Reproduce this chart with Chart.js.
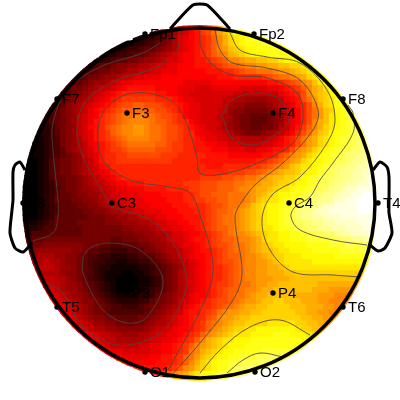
<!DOCTYPE html>
<html>
<head>
<meta charset="utf-8">
<title>EEG topography</title>
<script src="https://cdn.jsdelivr.net/npm/chart.js@4"></script>
<style>
  html, body { margin: 0; padding: 0; background: #fff; }
  canvas { display: block; }
</style>
</head>
<body>
<canvas id="topoChart" width="400" height="400"></canvas>
<script>
// electrodes
var channelNames = ["Fp1", "Fp2", "F7", "F3", "F4", "F8", "T3", "C3", "C4", "T4", "T5", "P3", "P4", "T6", "O1", "O2"];
var channelX = [-55, 54, -143, -73, 73, 143, -177, -88, 89, 178, -143, -73, 73, 143, -55, 55];
var channelY = [169, 169, 104, 90, 90, 104, 0, 0, 0, 0, -104, -90, -90, -104, -169, -169];

// amplitude per cell, base 36 (0 = black ... z = white), each row centred on the head
var amplitudeRows = [
  "9abdefhjln",
  "34568abdeghjlnprst",
  "22334569bcdefgikmopqrrss",
  "1112234567 9bcdefgikm opqrrrssss",
  "1122334556 789bcdefgi klnopqqrrr rsss",
  "1223345567 89abcddefg ijkmnopqqq rrrrss",
  "2233455667 889abbcdde efghikklmm nnoopqqrrs",
  "3345567788 99abbccddd eeefghiijk kllmmnnoop qr",
  "3445667789 9aabbcccdd dddeeeffgh iijjjkllmn opqr",
  "445667889a abbcccdddd ddddddeeef ffffghijjk lmopqr",
  "45567889ab ccdddddddd dcccccdddd ddddddeefg hiklnpqr",
  "4566789aab cdeeeeeddd dcccbbbccc ccbbbbbccd efgikmnpqr",
  "3556789abc deffffffee ddccbbbbbb bbaaaaaaaa cdefhkmnoqrs",
  "456789abcd efggggggff fedccbbbbb aa99888899 acdehjlnoprs",
  "345789abcd efghhiihhh gffedccbbb ba98877778 9abcefhkmoprss",
  "3456789acd efghiijjii hhgfedccbb baa8776666 789acdfhjlnoqrst",
  "345678abcd fghijjkkjj ihhgfdccbb ba98766555 678abdfhjlnpqrst",
  "2345678abc efghijkkkk jiihgffdcb bba9876655 5678acdfhkmnpqrstt",
  "2235678abd efhijkkllk jjihhgfedc bba9876655 6679acegikmopqrstu",
  "12235678ab cefgijkkll kjjihhgffd ccbba98766 6789abdfhj lnoqrrstuu",
  "112346789b cefghijkkk kjjihhgffe dccbbaa999 99abcefhjl mopqrsstuv",
  "1112346789 acdefghijj jjjiihggff eeddccbbaa aabbcdefhj lmopqrsstuvv",
  "1112345789 abdefgghii iiihhhggff eeedddcccb bccdeefhkl mopqrsstuuvw",
  "1112345678 abceffgghh hhhhgggfff ffeeeedddd ddeefhiklm opqrsstuuvvw",
  "0012456678 9aceffgggg ggggggffff feeeeeeeee effghiklmo pqqrsttuvvww",
  "0001245667 89abdeffff ffffffffff fffeeeffff fgghijklno ppqrstuuvvwwxx",
  "0001245667 89abcdefff ffffffffff fffffffggg hhijklmnno pqqsttuvvwwxxy",
  "0001245566 789abcdeff ffffffffff ffgggghhii jjklmnnoop qrsttuuvvwwxyy",
  "0001235566 789aabcdde eefffffffg gghhhiiijj kklmmnoopq qrsttuvvwwxxyy",
  "0001234566 7889aabccd ddeeeeffff gghhhiiijk klmmnoppqr rsttuvvwxxyyyy",
  "0001234556 77889abbcc cddddeeeef fghhiiijjj klmnopqqrr stuuvvwxxyyzzz",
  "0001235556 67789aabbc ccddddeeef fgghhiijjj klnoppqrrs ttuvvwxxyyzzzz",
  "0001234555 667789aabb cccddddeee fffghhijjk lnopqqrrst uvvwxxyyyyzzzz",
  "0001234555 56677899aa bbcccdddee effghiijkl mnopqqrstu vvwxxyyyyyzzzz",
  "0001235555 5566677889 9abbccddde eefghijjkl mnopqqrstu vvwwxxxyyyyyyy",
  "1112345555 6666677788 899abbccdd eefghijjkl mnopqqrstt uuvvwwxxxxyyyy",
  "2223445555 5666666677 8889abbccd defghiijkl mnoppqrrst tuuvvwwwxxxyyy",
  "3344455555 5666666666 778899abbc ddefghijkk lmnoppqqrr ssttuuvwwxxxyy",
  "4555666666 6666665566 677889abbc deefghiijk klmoppqqrr rssssttuuvvwwx",
  "666777777 7666554455 5667889abc cdefghhijj klmnoppqqq qrrrrsssttttu",
  "778888887 7655443334 45667899ab cdeefghijj klmnnoppqq qqrrrrrsssstt",
  "889998877 6544332223 34456789ab cddefghiij kklmnooppp qqqqqqrrrrrrs",
  "999a99877 6543322112 233456789a bcdefghhij kkllmnoppp ppqqqqqqqqqqq",
  "aaaa9887 6543221111 122345678a bcdeffghij kkllmmnopp pppppppppppp",
  "99999877 6543211100 112345679a bcdeffghij kkllmmmnno oooooooooooo",
  "aaa9987 6543211000 011235679a bcdeffghij kklllmmmnn nnnnnnnnnnn",
  "aaaa988 7654321000 011235679a bcdefgghij jkllmmnnnn nnnmmmmmmmm",
  "bba988 7654321000 112345679a bcdefghiij kklmmnnnnn nnmmmlllll",
  "bbba98 8765432111 122356789a cddefghijj klmmnnnnnm mmmlllkkkj",
  "cbba9 8776543222 23356678ab cdefghhijk llmnnoonnn mmmllkkkj",
  "ccba 9876654433 34566789ac deffghijkl mmnnoooonn nmmmllkk",
  "dcba 9876654444 4456789abd eefghjkllm mnnoooooon nmmllkkj",
  "dcb a987766555 566789abcd effhikllmn nooooooooo nnmmllk",
  "dc ba98877665 667899abcd efgijklmnn oooopppppo onnmml",
  "d cba9988777 7789aabcdd efgiklmnoo ppqqqqqqqp oonnm",
  "edcbaa9988 899abbccde fgiklmnopp pqqqqrrrqq qpon",
  "edcbaa9999 9abbccdefg ikmnoppqqq rrrrrrrrrqqq",
  "dccbaaaaab bccddefgik lmnopqqqrr rrrrrrrrrr",
  "dcccbbbbbc cddefgjkmn opqqrrrrrs ssssrr",
  "dddcccccdd eefgijlnop qqrrsssttt ttss",
  "eedddddeee fgikmopqrr ssttttuutt",
  "feeeeefgik lnopqrrstt uuuu",
  "efgiklmopq rrsttuuu",
  "mnoppqrstt"
];

// contour lines
var contourOuterX = [-40, -57, -100, -133, -147, -147, -142, -142, -147, -167];
var contourOuterY = [160, 150, 136, 113, 80, 53, 3, -14, -30, -38];
var contourDarkX = [-20, -20, -23, -43, -83, -113, -123, -117, -100, -93, -87, -50, -27, -13, -15, -33, -53, -83, -117, -137, -153];
var contourDarkY = [173, 170, 153, 136, 123, 103, 76, 46, 16, 3, -4, -17, -40, -74, -90, -124, -137, -142, -124, -90, -80];
var contourRedX = [0, 1, 13, 33, 67, 97, 103, 93, 53, 17, 0, -3, -15, -30, -67, -93, -102, -97, -70, -30, -10, 0, 13, 5, -30, -32];
var contourRedY = [173, 156, 138, 128, 125, 110, 86, 60, 38, 28, 30, 46, 83, 103, 110, 96, 73, 43, 23, 16, 10, -12, -62, -97, -164, -167];
var contourOrangeX = [15, 20, 33, 67, 100, 118, 113, 83, 57, 43, 35, 42, 33, 0, -30];
var contourOrangeY = [173, 153, 140, 135, 123, 93, 73, 40, 20, 3, -14, -70, -97, -140, -174];
var contourYellowX = [30, 40, 67, 100, 127, 135, 127, 100, 72, 62, 70, 93, 133, 160];
var contourYellowY = [170, 153, 146, 140, 113, 83, 60, 26, 8, -17, -47, -69, -72, -74];
var contourPaleX = [148, 153, 153, 133, 120, 110, 95, 91, 100, 133, 167];
var contourPaleY = [98, 90, 70, 40, 23, 6, -4, -14, -27, -37, -42];
var contourP3X = [-117, -110, -90, -60, -37, -53, -73, -97, -117, -117];
var contourP3Y = [-54, -45, -40, -47, -77, -114, -120, -107, -70, -54];
var contourF4X = [22, 32, 58, 80, 89, 75, 53, 32, 22];
var contourF4Y = [87, 103, 110, 103, 83, 68, 58, 65, 87];
var contourBackX = [0, 20, 50, 80, 110];
var contourBackY = [-170, -147, -124, -117, -132];
var contourO2X = [27, 43, 60, 83];
var contourO2Y = [-170, -157, -150, -154];

// head drawing
var noseX = [-30, -7, 7, 30];
var noseY = [174, 198, 198, 174];
var earLeftX = [-175, -180, -185, -187, -187, -188, -190, -185, -177, -168];
var earLeftY = [33, 41, 38, 31, 3, -7, -30, -45, -49, -40];
var earRightX = [173, 180, 187, 189, 189, 189, 192, 185, 178, 170];
var earRightY = [33, 41, 36, 26, 3, -10, -30, -45, -48, -42];

var cellStep = 5.6;
var cellNudge = 0.6; // later cells overlap earlier ones, this recentres them
var gridSize = 64;
var headRadius = 175;
var mapRadius = 178;

function toPoints(xs, ys) {
  return xs.map(function(x, i) { return {x: x, y: ys[i]}; });
}

function hotColor(level) {
  var v = level / 35;
  var r = Math.min(1, v / 0.375);
  var g = Math.max(0, Math.min(1, (v - 0.375) / 0.375));
  var b = Math.max(0, Math.min(1, (v - 0.75) / 0.25));
  return "rgb(" + Math.round(r * 255) + "," + Math.round(g * 255) + "," + Math.round(b * 255) + ")";
}

var cells = [];
var cellColors = [];
amplitudeRows.forEach(function(rowText, j) {
  var row = rowText.split(" ").join("");
  var first = Math.floor((gridSize - row.length) / 2);
  for (var k = 0; k < row.length; k++) {
    cells.push({x: (first + k - 31.5) * cellStep + cellNudge, y: (31.5 - j) * cellStep - cellNudge});
    cellColors.push(hotColor(parseInt(row[k], 36)));
  }
});

function contourSet(xs, ys) {
  return {
    type: "line", data: toPoints(xs, ys), order: 5, borderColor: "rgba(70,70,70,0.85)",
    borderWidth: 1, pointRadius: 0, tension: 0.35, fill: false
  };
}

function outlineSet(xs, ys) {
  return {
    type: "line", data: toPoints(xs, ys), order: 4, borderColor: "#000",
    borderWidth: 3, pointRadius: 0, tension: 0.2, fill: false
  };
}

var datasets = [
  {
    // map cells
    data: cells, order: 9, pointStyle: "rect", pointRadius: 4.9,
    pointBackgroundColor: cellColors, pointBorderWidth: 0, showLine: false
  },
  contourSet(contourOuterX, contourOuterY),
  contourSet(contourDarkX, contourDarkY),
  contourSet(contourRedX, contourRedY),
  contourSet(contourOrangeX, contourOrangeY),
  contourSet(contourYellowX, contourYellowY),
  contourSet(contourPaleX, contourPaleY),
  contourSet(contourP3X, contourP3Y),
  contourSet(contourF4X, contourF4Y),
  contourSet(contourBackX, contourBackY),
  contourSet(contourO2X, contourO2Y),
  outlineSet(noseX, noseY),
  outlineSet(earLeftX, earLeftY),
  outlineSet(earRightX, earRightY),
  {
    // head ring
    data: [{x: 0, y: 0}], order: 3, pointStyle: "circle", pointRadius: headRadius,
    pointBackgroundColor: "rgba(0,0,0,0)", pointBorderColor: "#000", pointBorderWidth: 3.5, showLine: false
  },
  {
    // electrodes
    data: toPoints(channelX, channelY), order: 1, pointStyle: "circle", pointRadius: 2.7,
    pointBackgroundColor: "#000", pointBorderWidth: 0, showLine: false
  }
];

var headPlugin = {
  id: "headPlugin",
  beforeDatasetDraw: function(chart, args) {
    if (args.index !== 0) return;
    var ctx = chart.ctx;
    ctx.save();
    ctx.beginPath();
    ctx.arc(chart.scales.x.getPixelForValue(0), chart.scales.y.getPixelForValue(0), mapRadius, 0, Math.PI * 2);
    ctx.clip();
  },
  afterDatasetDraw: function(chart, args) {
    if (args.index === 0) chart.ctx.restore();
  },
  afterDatasetsDraw: function(chart) {
    var ctx = chart.ctx;
    ctx.save();
    ctx.fillStyle = "#000";
    ctx.font = "15px 'Liberation Sans', Arial, sans-serif";
    ctx.textBaseline = "middle";
    channelNames.forEach(function(name, i) {
      ctx.fillText(name, chart.scales.x.getPixelForValue(channelX[i]) + 5, chart.scales.y.getPixelForValue(channelY[i]) + 0.5);
    });
    ctx.restore();
  }
};

new Chart(document.getElementById("topoChart").getContext("2d"), {
  type: "scatter",
  data: {datasets: datasets},
  options: {
    responsive: false,
    animation: false,
    layout: {padding: 0, autoPadding: false},
    plugins: {legend: {display: false}, tooltip: {enabled: false}},
    scales: {
      x: {type: "linear", display: false, min: -200, max: 200},
      y: {type: "linear", display: false, min: -197, max: 203}
    }
  },
  plugins: [headPlugin]
});
</script>
</body>
</html>
